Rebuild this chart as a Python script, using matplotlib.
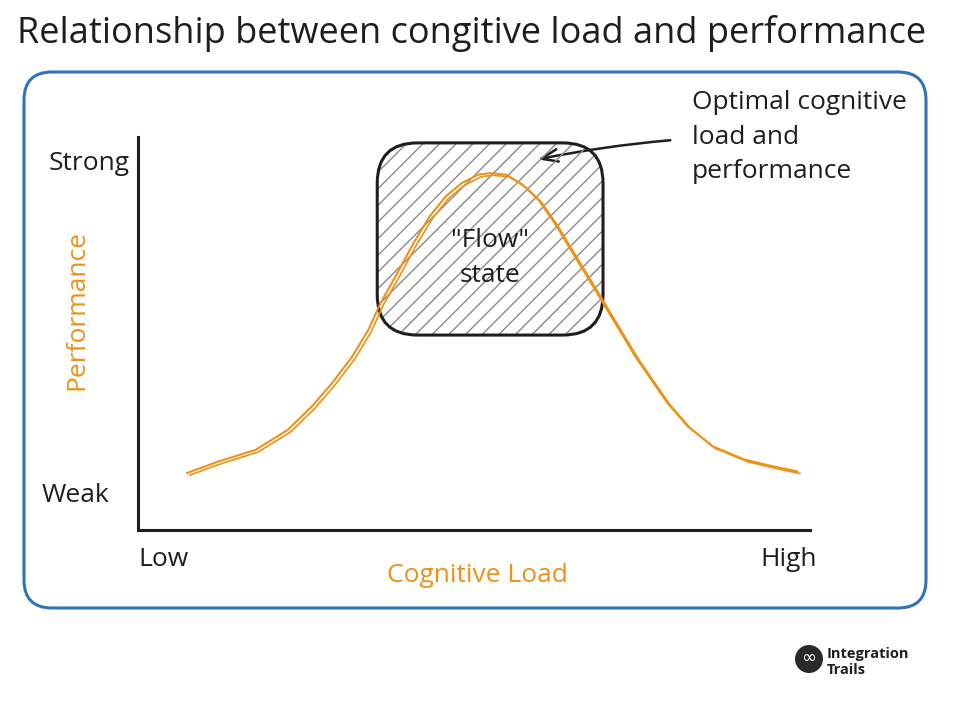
import matplotlib
matplotlib.use('Agg')
import matplotlib.pyplot as plt
import matplotlib.patheffects as pe
from matplotlib.patches import FancyBboxPatch, Circle

plt.rcParams['font.family'] = ['Open Sans', 'DejaVu Sans']
plt.rcParams['hatch.linewidth'] = 1.0

# curve (fractions of the axis range)
cognitive_load = [0.073, 0.121, 0.175, 0.223, 0.259, 0.289, 0.319, 0.343, 0.361, 0.386,
                  0.410, 0.434, 0.458, 0.482, 0.506, 0.524, 0.548, 0.572, 0.596, 0.620,
                  0.644, 0.668, 0.692, 0.716, 0.740, 0.764, 0.788, 0.818, 0.855, 0.903,
                  0.945, 0.981]
performance = [0.145, 0.175, 0.204, 0.255, 0.315, 0.374, 0.442, 0.510, 0.578, 0.654,
               0.730, 0.798, 0.849, 0.883, 0.904, 0.908, 0.904, 0.879, 0.840, 0.781,
               0.713, 0.646, 0.578, 0.510, 0.442, 0.382, 0.323, 0.264, 0.213, 0.179,
               0.162, 0.149]
flow_load = (0.356, 0.692)
flow_perf = (0.496, 0.985)

title = 'Relationship between congitive load and performance'
x_ticks = ['Low', 'High']
y_ticks = ['Weak', 'Strong']

ORANGE = '#ec9216'
BLUE = '#2f74b8'
INK = '#1e1e1e'
W, H = 967, 707
FS = 19

fig = plt.figure(figsize=(W / 100, H / 100), dpi=100)

# overlay in pixel coordinates for the sketch decorations
ov = fig.add_axes([0, 0, 1, 1])
ov.set_xlim(0, W)
ov.set_ylim(H, 0)
ov.axis('off')

ov.text(472, 33, title, ha='center', va='center', fontsize=26, color=INK)

frame = FancyBboxPatch((24, 72), 902, 536, boxstyle='round,pad=0,rounding_size=28',
                       fill=False, edgecolor=BLUE, linewidth=2.2)
ov.add_patch(frame)

# main chart axes
ax = fig.add_axes([138 / W, (H - 530) / H, 672 / W, 393 / H])
ax.set_xlim(0, 1)
ax.set_ylim(0, 1)
ax.patch.set_alpha(0)
for s in ['top', 'right']:
    ax.spines[s].set_visible(False)
for s in ['left', 'bottom']:
    ax.spines[s].set_linewidth(2.2)
    ax.spines[s].set_color(INK)
ax.set_xticks([])
ax.set_yticks([])

# flow box: hatched fill + dark border
fx0, fx1 = flow_load
fy0, fy1 = flow_perf
hatch = FancyBboxPatch((fx0, fy0), fx1 - fx0, fy1 - fy0,
                       boxstyle='round,pad=0,rounding_size=0.06', mutation_aspect=672 / 393,
                       facecolor='none', edgecolor='#8a8a8a', hatch='//', linewidth=0)
ax.add_patch(hatch)
border = FancyBboxPatch((fx0, fy0), fx1 - fx0, fy1 - fy0,
                        boxstyle='round,pad=0,rounding_size=0.06', mutation_aspect=672 / 393,
                        fill=False, edgecolor=INK, linewidth=2.2)
ax.add_patch(border)

ax.plot(cognitive_load, performance, color=ORANGE, linewidth=1.5, solid_joinstyle='round',
        path_effects=[pe.Stroke(linewidth=1.2, foreground=ORANGE, offset=(2, -1.5)), pe.Normal()])

ax.text((fx0 + fx1) / 2, 0.692, '"Flow"\nstate', ha='center', va='center',
        fontsize=FS, color=INK, linespacing=1.55)

# axis labels
ov.text(130, 163, y_ticks[1], ha='right', va='center', fontsize=FS, color=INK)
ov.text(42, 495, y_ticks[0], ha='left', va='center', fontsize=FS, color=INK)
ov.text(138, 560, x_ticks[0], ha='left', va='center', fontsize=FS, color=INK)
ov.text(817, 560, x_ticks[1], ha='right', va='center', fontsize=FS, color=INK)
ov.text(477, 576, 'Cognitive Load', ha='center', va='center', fontsize=FS, color=ORANGE)
ov.text(77, 310, 'Performance', ha='center', va='center', fontsize=FS, color=ORANGE, rotation=90)

# annotation
ov.text(692, 90, 'Optimal cognitive\nload and\nperformance', ha='left', va='top',
        fontsize=FS, color=INK, linespacing=1.5)
ov.annotate('', xy=(535, 160), xytext=(673, 140),
            arrowprops=dict(arrowstyle='->,head_length=1.2,head_width=0.45',
                            color=INK, linewidth=1.8, connectionstyle='arc3,rad=0.03'))

# logo
ov.add_patch(Circle((809, 659), 14, facecolor='#2a2a2a', edgecolor='none'))
ov.text(809, 658, '\u221e', ha='center', va='center', fontsize=13, color='white',
        family=['DejaVu Sans'])
ov.text(827, 654, 'Integration', ha='left', va='center', fontsize=10.5, fontweight='bold',
        color=INK)
ov.text(827, 670, 'Trails', ha='left', va='center', fontsize=10.5, fontweight='bold',
        color=INK)

fig.savefig('out.png', dpi=100)
